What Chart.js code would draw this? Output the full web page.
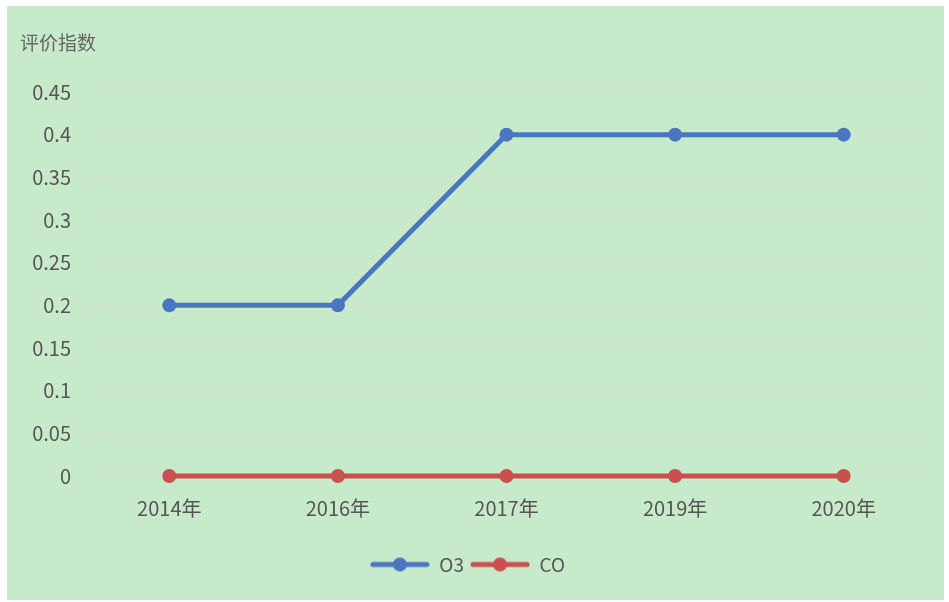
<!DOCTYPE html>
<html>
<head>
<meta charset="utf-8">
<script src="https://cdn.jsdelivr.net/npm/chart.js@4/dist/chart.umd.min.js"></script>
<style>
    body { margin: 0; background: #ffffff; }
    #wrap { position: absolute; left: 7px; top: 6px; width: 937px; height: 594px; background: #c6eaca; }
</style>
</head>
<body>
<div id="wrap"><canvas id="chart" width="937" height="594"></canvas></div>
<script>
const categories = ['2014年', '2016年', '2017年', '2019年', '2020年'];
const o3Values = [0.2, 0.2, 0.4, 0.4, 0.4];
const coValues = [0, 0, 0, 0, 0];
const seriesNames = ['O3', 'CO'];
const yTitle = '评价指数';

const blue = '#4a76c1';
const red = '#c9504e';
const textColor = '#555555';
const fontFamily = '"Noto Sans CJK SC", "Noto Sans", sans-serif';

// legend marker: a short line with a dot in the middle
function legendIcon(color) {
    let c = document.createElement('canvas');
    c.width = 60;
    c.height = 16;
    let ctx = c.getContext('2d');
    ctx.strokeStyle = color;
    ctx.lineWidth = 5;
    ctx.lineCap = 'round';
    ctx.beginPath();
    ctx.moveTo(3, 8);
    ctx.lineTo(57, 8);
    ctx.stroke();
    ctx.fillStyle = color;
    ctx.beginPath();
    ctx.arc(30, 8, 7, 0, Math.PI * 2);
    ctx.fill();
    return c;
}

const titlePlugin = {
    id: 'yTitle',
    afterDraw(chart) {
        const ctx = chart.ctx;
        ctx.save();
        ctx.font = '19px ' + fontFamily;
        ctx.fillStyle = '#666666';
        ctx.textBaseline = 'middle';
        ctx.fillText(yTitle, 13, 37);
        ctx.restore();
    }
};

new Chart(document.getElementById('chart'), {
    type: 'line',
    data: {
        labels: categories,
        datasets: [
            {
                label: seriesNames[0],
                data: o3Values,
                borderColor: blue,
                backgroundColor: blue,
                borderWidth: 5,
                pointRadius: 7,
                pointHoverRadius: 7,
                pointBorderWidth: 0,
                clip: false,
                tension: 0
            },
            {
                label: seriesNames[1],
                data: coValues,
                borderColor: red,
                backgroundColor: red,
                borderWidth: 5,
                pointRadius: 7,
                pointHoverRadius: 7,
                pointBorderWidth: 0,
                clip: false,
                tension: 0
            }
        ]
    },
    options: {
        responsive: false,
        animation: false,
        layout: { padding: { top: 86, right: 16, left: 0, bottom: 16 } },
        plugins: {
            tooltip: { enabled: false },
            legend: {
                position: 'bottom',
                labels: {
                    usePointStyle: true,
                    pointStyleWidth: 60,
                    font: { size: 19, family: fontFamily },
                    color: textColor,
                    padding: 6,
                    generateLabels(chart) {
                        return chart.data.datasets.map((ds, i) => ({
                            text: ds.label,
                            fillStyle: ds.borderColor,
                            strokeStyle: ds.borderColor,
                            pointStyle: legendIcon(ds.borderColor),
                            datasetIndex: i,
                            hidden: false,
                            fontColor: textColor
                        }));
                    }
                }
            }
        },
        scales: {
            x: {
                offset: true,
                grid: { display: false },
                border: { display: false },
                ticks: {
                    color: textColor,
                    font: { size: 20, family: fontFamily },
                    padding: 12
                },
                afterFit(scale) { scale.height = 73; }
            },
            y: {
                min: 0,
                max: 0.45,
                ticks: {
                    stepSize: 0.05,
                    color: textColor,
                    font: { size: 20, family: fontFamily },
                    padding: 14,
                    callback: v => Math.round(v * 100) / 100
                },
                grid: { color: 'rgba(215,225,215,0.9)', drawTicks: false, lineWidth: 1 },
                border: { display: false },
                afterFit(scale) { scale.width = 78; }
            }
        }
    },
    plugins: [titlePlugin]
});
</script>
</body>
</html>
